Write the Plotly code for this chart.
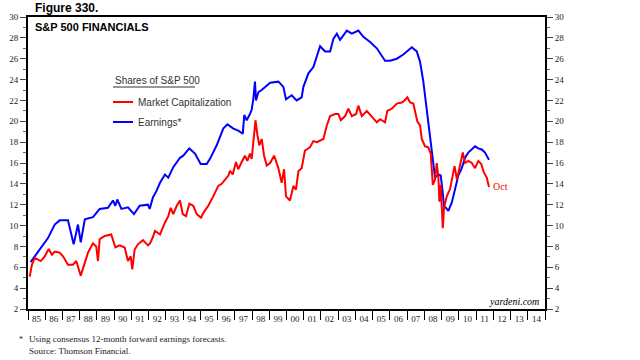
import plotly.graph_objects as go

# Earnings share (blue)
earn_t = [1985.15, 1985.75, 1986.16, 1986.55, 1986.84, 1987.32, 1987.51, 1987.65, 1987.9, 1988.06,
          1988.3, 1988.77, 1989.16, 1989.64, 1989.93, 1990.07, 1990.18, 1990.42, 1990.8, 1991.15,
          1991.48, 1991.96, 1992.06, 1992.25, 1992.45, 1992.66, 1992.95, 1993.14, 1993.43, 1993.82,
          1994.01, 1994.36, 1994.69, 1995.02, 1995.37, 1995.56, 1995.95, 1996.33, 1996.57, 1996.92,
          1997.2, 1997.46, 1997.55, 1997.69, 1997.88, 1997.98, 1998.08, 1998.17, 1998.23, 1998.37,
          1998.56, 1998.76, 1999.05, 1999.53, 1999.82, 1999.97, 2000.3, 2000.59, 2000.88, 2000.98,
          2001.27, 2001.56, 2001.76, 2001.95, 2002.24, 2002.53, 2002.72, 2002.92, 2003.11, 2003.5,
          2003.79, 2004.17, 2004.46, 2004.85, 2005.24, 2005.72, 2006.01, 2006.4, 2006.78, 2006.98,
          2007.27, 2007.56, 2007.75, 2007.94, 2008.14, 2008.33, 2008.52, 2008.62, 2008.81, 2008.95,
          2009.07, 2009.14, 2009.26, 2009.39, 2009.59, 2009.78, 2009.97, 2010.17, 2010.36, 2010.55,
          2010.75, 2010.94, 2011.13, 2011.33, 2011.52, 2011.75]
earn_v = [6.5, 7.9, 8.8, 10.1, 10.5, 10.5, 9.3, 8.2, 10.1, 8.4,
          10.6, 10.8, 11.6, 11.7, 12.4, 11.9, 12.5, 11.6, 11.75, 11.1,
          11.9, 12.0, 11.6, 12.7, 13.3, 14.1, 14.9, 14.6, 15.6, 16.5,
          16.7, 17.4, 16.9, 15.9, 15.9, 16.4, 17.7, 19.3, 19.7, 19.3,
          19.1, 18.8, 20.6, 20.1, 20.7, 21.1, 22.2, 23.8, 22.0, 22.8,
          23.0, 23.3, 23.7, 23.8, 23.3, 22.1, 22.5, 22.0, 22.3, 23.3,
          24.6, 25.2, 26.3, 27.2, 26.7, 26.7, 27.9, 28.4, 27.8, 28.7,
          28.4, 28.7, 28.1, 27.6, 27.0, 25.8, 25.8, 26.0, 26.4, 26.7,
          27.1, 26.7, 25.7, 23.8, 21.2, 18.3, 16.0, 14.6, 14.9, 14.8,
          13.1, 11.85, 11.7, 11.4, 12.2, 13.5, 14.8, 15.5, 16.5, 17.0,
          17.3, 17.6, 17.4, 17.3, 17.0, 16.3]

# Market capitalization share (red)
mcap_t = [1985.1, 1985.23, 1985.39, 1985.74, 1985.97, 1986.2, 1986.39, 1986.55, 1986.84, 1987.03,
          1987.32, 1987.61, 1987.8, 1988.06, 1988.29, 1988.48, 1988.77, 1988.96, 1989.06, 1989.16,
          1989.45, 1989.83, 1990.07, 1990.32, 1990.61, 1990.8, 1990.96, 1991.05, 1991.19, 1991.38,
          1991.67, 1991.96, 1992.08, 1992.25, 1992.37, 1992.66, 1992.95, 1993.14, 1993.28, 1993.43,
          1993.63, 1993.82, 1993.98, 1994.17, 1994.36, 1994.59, 1994.79, 1995.04, 1995.17, 1995.46,
          1995.75, 1996.04, 1996.24, 1996.43, 1996.63, 1996.72, 1996.88, 1997.07, 1997.2, 1997.4,
          1997.59, 1997.73, 1997.88, 1997.98, 1998.12, 1998.2, 1998.31, 1998.42, 1998.56, 1998.7,
          1998.85, 1999.05, 1999.28, 1999.53, 1999.72, 1999.86, 1999.97, 2000.2, 2000.4, 2000.55,
          2000.69, 2000.88, 2001.07, 2001.36, 2001.56, 2001.76, 2002.14, 2002.34, 2002.53, 2002.82,
          2003.01, 2003.15, 2003.4, 2003.59, 2003.79, 2004.04, 2004.17, 2004.37, 2004.66, 2004.95,
          2005.24, 2005.43, 2005.72, 2005.85, 2006.11, 2006.4, 2006.69, 2006.85, 2007.01, 2007.17,
          2007.36, 2007.52, 2007.59, 2007.75, 2007.85, 2008.04, 2008.23, 2008.37, 2008.43, 2008.49,
          2008.62, 2008.72, 2008.81, 2008.87, 2008.95, 2009.01, 2009.07, 2009.14, 2009.3, 2009.49,
          2009.65, 2009.75, 2009.89, 2009.97, 2010.11, 2010.23, 2010.36, 2010.55, 2010.75, 2010.94,
          2011.13, 2011.3, 2011.45, 2011.62, 2011.75]
mcap_v = [5.1, 6.25, 6.9, 6.6, 7.05, 7.76, 7.2, 7.5, 7.4, 7.05,
          6.25, 6.25, 6.6, 5.2, 6.4, 7.4, 8.3, 8.0, 6.6, 8.7,
          9.0, 9.15, 7.9, 8.1, 7.9, 6.6, 7.05, 5.8, 7.7, 8.2,
          8.6, 8.1, 8.3, 8.9, 9.5, 9.15, 10.3, 10.9, 11.7, 11.1,
          11.9, 12.4, 11.1, 10.9, 12.1, 11.9, 11.1, 10.75, 11.2, 11.9,
          12.8, 13.8, 14.0, 14.45, 14.8, 15.25, 14.9, 16.1, 15.4, 16.1,
          16.7, 16.2, 16.9, 16.4, 18.5, 20.1, 18.7, 17.7, 18.3, 16.7,
          15.75, 16.0, 16.7, 15.5, 14.1, 15.4, 12.8, 12.4, 13.8, 13.45,
          15.2, 15.5, 17.2, 17.5, 18.1, 18.0, 18.3, 19.6, 20.5, 20.7,
          20.7, 20.1, 20.5, 21.2, 20.5, 20.7, 21.5, 20.5, 21.0, 20.5,
          19.9, 20.2, 19.9, 21.0, 21.2, 21.7, 21.8, 22.0, 22.3, 21.8,
          21.7, 20.5, 20.0, 19.6, 18.3, 17.6, 17.5, 16.9, 15.5, 13.9,
          14.4, 16.0, 14.75, 12.3, 13.9, 12.2, 9.75, 11.7, 12.8, 13.5,
          15.1, 15.7, 14.4, 15.1, 16.0, 17.0, 16.0, 16.2, 16.0, 15.5,
          16.2, 15.9, 15.1, 14.6, 13.7]

year_labels = ["85", "86", "87", "88", "89", "90", "91", "92", "93", "94", "95", "96", "97", "98", "99",
               "00", "01", "02", "03", "04", "05", "06", "07", "08", "09", "10", "11", "12", "13", "14"]
first_year = 1985

SERIF = "Liberation Serif"
SANS = "Liberation Sans"

fig = go.Figure()
fig.add_trace(go.Scatter(x=earn_t, y=earn_v, mode="lines", name="Earnings*",
                         line=dict(color="#0000ff", width=2), showlegend=False))
fig.add_trace(go.Scatter(x=mcap_t, y=mcap_v, mode="lines", name="Market Capitalization",
                         line=dict(color="#ff0000", width=2), showlegend=False, yaxis="y2"))

label_pos = [first_year + i + 0.5 for i in range(len(year_labels))]

yax_common = dict(range=[2, 30], dtick=2, ticks="outside", ticklen=6, tickcolor="#444", showgrid=False,
                  zeroline=False, showline=True, linecolor="black", linewidth=2, automargin=False,
                  tickfont=dict(family=SERIF, size=9, color="#222"),
                  minor=dict(dtick=1, ticks="outside", ticklen=3, tickcolor="#666", showgrid=False))

fig.update_layout(
    width=640, height=360,
    margin=dict(l=28, r=95, t=17, b=51),
    paper_bgcolor="white", plot_bgcolor="white",
    xaxis=dict(range=[first_year, first_year + len(year_labels)], tickvals=label_pos, ticktext=year_labels,
               ticks="", showgrid=False, zeroline=False, showline=True, linecolor="black", linewidth=2,
               mirror=True, automargin=False, tickfont=dict(family=SERIF, size=9, color="#222"),
               minor=dict(tick0=first_year, dtick=1, ticks="outside", ticklen=9, tickcolor="black",
                          tickwidth=1, showgrid=False)),
    yaxis=dict(**yax_common),
    yaxis2=dict(**yax_common, overlaying="y", side="right"),
)


def px(xp):
    return (xp - 28) / 517


def py(yp):
    return (309 - yp) / 292


fig.add_annotation(text="<b>Figure 330.</b>", xref="paper", yref="paper", x=px(33), y=py(8),
                   xanchor="left", yanchor="middle", showarrow=False,
                   font=dict(family=SANS, size=12, color="black"))
fig.add_annotation(text="<b>S&P 500 FINANCIALS</b>", xref="paper", yref="paper", x=px(33),
                   y=py(27), xanchor="left", yanchor="middle", showarrow=False,
                   font=dict(family=SANS, size=11, color="black"))

# Legend block
fig.add_annotation(text="Shares of S&P 500", xref="paper", yref="paper", x=px(113), y=py(80),
                   xanchor="left", yanchor="middle", showarrow=False,
                   font=dict(family=SANS, size=10, color="#333"))
fig.add_shape(type="line", xref="paper", yref="paper", x0=px(113), x1=px(195), y0=py(87), y1=py(87),
              line=dict(color="#333", width=1))
fig.add_shape(type="line", xref="paper", yref="paper", x0=px(113), x1=px(133), y0=py(102), y1=py(102),
              line=dict(color="#ff0000", width=2))
fig.add_annotation(text="Market Capitalization", xref="paper", yref="paper", x=px(136), y=py(102),
                   xanchor="left", yanchor="middle", showarrow=False,
                   font=dict(family=SANS, size=10, color="#333"))
fig.add_shape(type="line", xref="paper", yref="paper", x0=px(113), x1=px(133), y0=py(122), y1=py(122),
              line=dict(color="#0000ff", width=2))
fig.add_annotation(text="Earnings*", xref="paper", yref="paper", x=px(136), y=py(122),
                   xanchor="left", yanchor="middle", showarrow=False,
                   font=dict(family=SANS, size=10, color="#333"))

# Oct label at end of market cap line
fig.add_annotation(text="Oct", x=mcap_t[-1], y=mcap_v[-1], xref="x", yref="y", xanchor="left",
                   yanchor="middle", xshift=2, showarrow=False,
                   font=dict(family=SERIF, size=10, color="#ff0000"))

fig.add_annotation(text="<i>yardeni.com</i>", xref="paper", yref="paper", x=px(541), y=py(301),
                   xanchor="right", yanchor="middle", showarrow=False,
                   font=dict(family=SERIF, size=10, color="black"))

fig.add_annotation(text="*", xref="paper", yref="paper", x=px(17), y=py(339),
                   xanchor="left", yanchor="middle", showarrow=False,
                   font=dict(family=SERIF, size=8, color="#222"))
fig.add_annotation(text="Using consensus 12-month forward earnings forecasts.<br>Source: Thomson Financial.",
                   xref="paper", yref="paper", x=px(27), y=py(345), xanchor="left", yanchor="middle",
                   align="left", showarrow=False, font=dict(family=SERIF, size=9, color="#222"))

fig.write_html("out.html", config={"displayModeBar": False},
               post_script="document.body.style.margin='0';document.body.style.padding='0';")
